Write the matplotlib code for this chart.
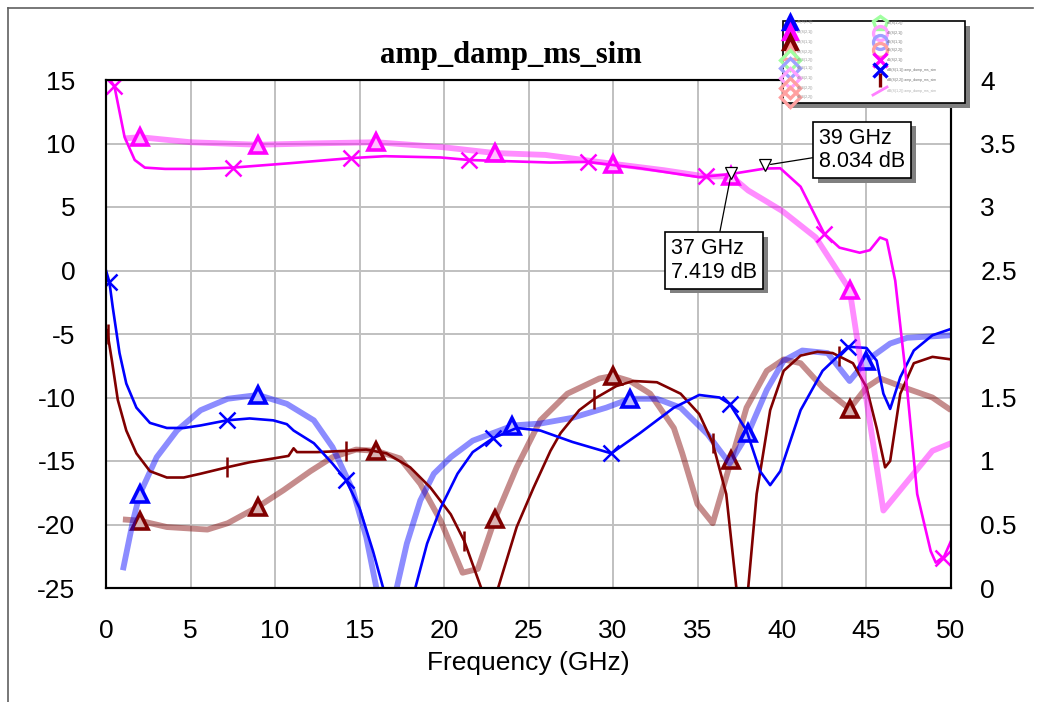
import numpy as np
import matplotlib
matplotlib.use("Agg")
import matplotlib.pyplot as plt
import matplotlib.patheffects as pe
from matplotlib.patches import Rectangle
from matplotlib.lines import Line2D

# --- data (frequency in GHz, level in dB) ---
# magenta thin line (x markers)
mag_f = [0.0, 0.5, 1.1, 1.7, 2.3, 3.5, 5.5, 7.5, 10.9, 14.5, 16.5, 19.8, 21.5, 26.3, 28.5,
         31.6, 35.1, 37.0, 39.0, 39.9, 41.1, 42.5, 43.4, 44.6, 45.2, 45.8, 46.2, 46.7,
         47.3, 48.0, 48.8, 49.1, 49.6, 50.0]
mag_db = [15.5, 14.5, 10.5, 8.7, 8.1, 8.0, 8.0, 8.1, 8.45, 8.85, 9.0, 8.9, 8.7, 8.5, 8.55,
          8.05, 7.35, 7.6, 8.03, 8.05, 6.6, 2.9, 1.8, 1.4, 1.6, 2.6, 2.4, -0.8,
          -7.9, -17.6, -22.1, -23.0, -22.5, -21.3]
mag_mk = [0.5, 7.5, 14.5, 21.5, 28.5, 35.5, 42.5, 49.5]

# thick pink line (triangles)
pink_f = [1.1, 2.0, 5.0, 9.0, 12.0, 16.0, 20.0, 23.0, 26.0, 30.0, 33.0, 35.5, 37.0, 38.0,
          40.0, 42.0, 44.0, 46.0, 48.9, 50.0]
pink_db = [10.4, 10.5, 10.1, 9.9, 10.0, 10.1, 9.7, 9.25, 9.1, 8.4, 7.9, 7.4, 7.42, 6.3,
           4.7, 2.6, -1.5, -18.9, -14.2, -13.6]
pink_mk = [2, 9, 16, 23, 30, 37, 44]

# blue thin line (x markers)
blue_f = [0.0, 0.2, 0.4, 0.8, 1.2, 1.8, 2.6, 3.6, 4.6, 5.6, 7.15, 8.5, 9.9, 10.7, 11.1,
          12.3, 13.4, 14.2, 15.0, 15.8, 16.4, 17.3, 18.3, 19.0, 19.8, 20.8, 21.7, 22.9,
          24.3, 25.7, 27.6, 29.9, 31.6, 33.6, 35.1, 36.3, 36.9, 37.9, 38.7, 39.3, 39.9,
          41.1, 42.4, 43.9, 45.0, 45.6, 46.0, 46.4, 47.0, 47.8, 48.9, 50.0]
blue_db = [0.0, -0.9, -2.9, -6.5, -8.9, -10.8, -12.0, -12.4, -12.4, -12.2, -11.8, -11.65,
           -11.8, -12.1, -12.6, -13.6, -15.2, -16.5, -18.7, -22.1, -25.0, -32.0, -25.0,
           -21.5, -18.7, -16.0, -14.3, -13.2, -12.4, -12.6, -13.5, -14.4, -12.8, -10.8,
           -9.8, -10.0, -10.5, -12.6, -15.8, -16.9, -15.8, -11.0, -7.9, -6.0, -6.1, -7.1,
           -9.7, -10.9, -8.4, -6.3, -5.1, -4.6]
blue_mk = [0.2, 7.15, 14.2, 22.9, 29.9, 36.9, 43.9]

# thick light blue line (triangles)
lblue_f = [1.0, 1.6, 2.0, 3.0, 4.2, 5.6, 7.2, 9.0, 10.7, 12.3, 13.4, 14.6, 15.4, 16.0,
           16.6, 17.2, 17.8, 18.6, 19.4, 20.4, 21.7, 24.1, 25.7, 27.6, 29.6, 31.0, 32.6,
           34.0, 35.6, 36.9, 38.0, 39.1, 40.1, 41.2, 42.7, 44.0, 45.0, 46.4, 47.4, 50.0]
lblue_db = [-23.6, -19.7, -17.6, -14.7, -12.6, -11.0, -10.1, -9.8, -10.5, -11.8, -13.9,
            -17.3, -21.0, -25.0, -30.0, -25.0, -21.5, -18.1, -16.0, -14.7, -13.4, -12.2,
            -12.05, -11.6, -10.8, -10.1, -10.1, -10.8, -12.9, -15.2, -12.8, -9.4, -7.1,
            -6.3, -6.5, -8.7, -7.1, -5.75, -5.3, -5.1]
lblue_mk = [2, 9, 24, 31, 38, 45]

# dark red thin line (| markers)
dred_f = [0.06, 0.35, 0.7, 1.2, 1.8, 2.6, 3.6, 4.6, 5.6, 7.15, 8.5, 9.9, 10.8, 11.1, 11.3,
          12.5, 14.2, 15.4, 16.6, 18.0, 19.2, 20.4, 21.2, 22.2, 22.7, 23.2, 24.3, 25.3,
          26.3, 26.9, 28.0, 28.9, 30.2, 31.2, 32.6, 34.0, 35.1, 35.9, 36.7, 37.3, 37.65,
          38.0, 38.5, 39.3, 40.1, 41.1, 42.1, 43.0, 44.2, 45.0, 45.6, 46.1, 46.4, 47.0,
          47.8, 48.9, 50.0]
dred_db = [-4.7, -7.1, -10.2, -12.6, -14.4, -15.8, -16.3, -16.3, -16.0, -15.5, -15.1,
           -14.8, -14.6, -14.0, -14.3, -14.3, -14.2, -14.1, -14.4, -15.5, -17.1, -19.2,
           -21.3, -25.0, -30.0, -25.0, -20.2, -17.1, -14.2, -12.8, -11.0, -10.1, -9.1,
           -8.7, -8.8, -9.7, -11.3, -13.6, -17.6, -25.0, -32.0, -25.0, -17.6, -11.0, -7.9,
           -6.7, -6.4, -6.5, -7.3, -9.2, -12.4, -15.5, -15.0, -9.7, -7.3, -6.8, -7.0]
dred_mk = [0.1, 7.15, 14.2, 21.2, 28.9, 35.9, 43.4]

# thick rosy line (dark red triangles)
rose_f = [1.0, 2.0, 3.6, 6.0, 7.2, 9.0, 10.5, 12.1, 13.4, 14.8, 16.0, 17.4, 18.6, 19.8,
          21.1, 22.0, 23.0, 24.3, 25.7, 27.3, 29.2, 30.0, 31.0, 32.2, 33.6, 34.1, 35.0,
          35.9, 37.0, 37.9, 39.1, 40.1, 41.1, 42.4, 44.0, 45.0, 45.8, 47.4, 48.9, 50.0]
rose_db = [-19.6, -19.7, -20.2, -20.4, -19.9, -18.6, -17.3, -15.8, -14.7, -14.1, -14.2,
           -14.8, -16.8, -19.7, -23.8, -23.5, -19.6, -15.5, -11.8, -9.7, -8.5, -8.3, -8.7,
           -9.7, -12.4, -14.4, -18.4, -19.9, -14.9, -10.8, -7.9, -7.0, -7.3, -9.2, -10.9,
           -9.2, -8.5, -9.3, -10.0, -11.0]
rose_mk = [2, 9, 16, 23, 30, 37, 44]

# marker readouts
m1_f, m1_db = 37, 7.419
m2_f, m2_db = 39, 8.034

x_ticks = [0, 5, 10, 15, 20, 25, 30, 35, 40, 45, 50]
y_ticks = [-25, -20, -15, -10, -5, 0, 5, 10, 15]
y2_ticks = [0, 0.5, 1, 1.5, 2, 2.5, 3, 3.5, 4]
y2_labels = ["0", "0.5", "1", "1.5", "2", "2.5", "3", "3.5", "4"]

plt.rcParams['font.family'] = ['Liberation Sans', 'DejaVu Sans']
plt.rcParams['axes.unicode_minus'] = False

fig = plt.figure(figsize=(10.42, 7.02), dpi=100)
ax = fig.add_axes([106 / 1042, 1 - 588 / 702, 845 / 1042, 508 / 702])


def thick(f, db, mk, col, face):
    ax.plot(f, db, color=col, lw=4.2, alpha=0.45, solid_capstyle='butt')
    ax.plot(mk, np.interp(mk, f, db), ls='none', marker='^', ms=11, mew=2.6,
            mec=col, mfc=face)


def thin(f, db, mk, col, marker, ms=11):
    ax.plot(f, db, color=col, lw=1.9)
    ax.plot(mk, np.interp(mk, f, db), ls='none', marker=marker, ms=ms, mew=1.8,
            color=col)


thick(rose_f, rose_db, rose_mk, '#800000', '#d9b3b3')
thick(lblue_f, lblue_db, lblue_mk, '#0000ff', '#c0c0ff')
thin(dred_f, dred_db, dred_mk, '#800000', '|', 14)
thin(blue_f, blue_db, blue_mk, '#0000ff', 'x')
thick(pink_f, pink_db, pink_mk, '#ff00ff', '#ffc0ff')
thin(mag_f, mag_db, mag_mk, '#ff00ff', 'x')

ax.set_xlim(0, 50)
ax.set_ylim(-25, 15)
ax.set_xticks(x_ticks)
ax.set_yticks(y_ticks)
ax.grid(True, color='#c0c0c0', lw=1.4)
ax.set_axisbelow(True)
ax.tick_params(length=0, labelsize=19, pad=22)
for s in ax.spines.values():
    s.set_linewidth(1.5)
ax.set_xlabel("Frequency (GHz)", fontsize=19, labelpad=6)
fig.text(511 / 1042, 1 - 55 / 702, "amp_damp_ms_sim", fontsize=22, fontweight='bold',
         family='Liberation Serif', ha='center', va='center')

ax2 = ax.twinx()
ax2.set_ylim(0, 4)
ax2.set_yticks(y2_ticks)
ax2.set_yticklabels(y2_labels)
ax2.tick_params(length=0, labelsize=19, pad=21)
for s in ax2.spines.values():
    s.set_linewidth(1.5)

# marker readouts with leader lines
for f, db, txt_xy in [(m1_f, m1_db, (33.45, 0.8)), (m2_f, m2_db, (42.2, 9.5))]:
    ax2.plot([f], [(db + 0.25 + 25) / 10], marker='v', ms=9, mec='black', mfc='white',
             mew=0.9, zorder=6)
    an = ax2.annotate("%d GHz\n%.3f dB" % (f, db), xy=(f, (db + 0.25 + 25) / 10),
                      xytext=(txt_xy[0], (txt_xy[1] + 25) / 10),
                      fontsize=15.5, ha='left', va='center', linespacing=1.15, zorder=7,
                      bbox=dict(boxstyle='square,pad=0.28', fc='white', ec='black', lw=1.2),
                      arrowprops=dict(arrowstyle='-', color='black', lw=0.9,
                                      shrinkA=0, shrinkB=4))
    an.get_bbox_patch().set_path_effects([
        pe.SimplePatchShadow(offset=(3.5, -3.5), shadow_rgbFace='#808080', alpha=1),
        pe.Normal()])

# legend block (tiny, unreadable in the original)
lg = fig.add_axes([783 / 1042, 1 - 103 / 702, 182 / 1042, 82 / 702])
lg.set_xlim(0, 182)
lg.set_ylim(82, 0)
lg.axis('off')
lg.add_patch(Rectangle((5, 5), 182, 82, fc='#808080', ec='none', clip_on=False))
lg.add_patch(Rectangle((0, 0), 182, 82, fc='white', ec='black', lw=1.2, clip_on=False))
left_items = [('#0000ff', '^', '#0000ff', 'dB(S(2,1))'),
              ('#ff00ff', '^', '#ff00ff', 'dB(S(2,1))'),
              ('#800000', '^', '#800000', 'dB(S(1,1))'),
              ('#ffa0a0', '^', 'none', 'dB(S(2,2))'),
              ('#a0ffa0', 'D', 'none', 'dB(S(1,2))'),
              ('#a0a0ff', 'D', 'none', 'dB(S(1,1))'),
              ('#ffa0ff', 'D', 'none', 'dB(S(2,1))'),
              ('#ffa0a0', 'D', 'none', 'dB(S(2,2))'),
              ('#ffa0a0', 'D', 'none', 'dB(S(2,2))')]
left_y = [1, 11, 21, 31, 39, 47, 57, 67, 76]
for (c, m, fcol, t), yy in zip(left_items, left_y):
    lg.plot([7], [yy], marker=m, ms=10, mew=2.4, mec=c, mfc=fcol, clip_on=False)
    lg.text(14, yy, t, fontsize=2.5, color='#909090', va='center')
right_items = [('#a0ffa0', 'p', 'dB(S(1,2))'),
               ('#ffa0ff', 'o', 'dB(S(2,1))'),
               ('#a0a0ff', 'o', 'dB(S(1,1))'),
               ('#ffa0a0', 'o', 'dB(S(2,2))'),
               ('#ff00ff', 'x', 'dB(S(2,1))'),
               ('#0000ff', 'x', 'dB(S(1,1)) amp_damp_ms_sim'),
               ('#800000', '|', 'dB(S(2,2)) amp_damp_ms_sim')]
right_y = [2, 12, 21, 29, 39, 49, 59]
for (c, m, t), yy in zip(right_items, right_y):
    lg.plot([97], [yy], marker=m, ms=10, mew=2.4, mec=c, mfc='none', clip_on=False)
    lg.text(104, yy, t, fontsize=2.5, color='#707070', va='center')
lg.add_line(Line2D([90, 104], [74, 66], color='#ff80ff', lw=2))
lg.text(104, 70, 'dB(S(1,2)) amp_damp_ms_sim', fontsize=2.5, color='#b0b0b0', va='center')

# window frame lines (top and left)
fig.add_artist(Line2D([8 / 1042, 1033 / 1042], [1 - 8 / 702, 1 - 8 / 702],
                      color='#606060', lw=1.2))
fig.add_artist(Line2D([8 / 1042, 8 / 1042], [0, 1 - 8 / 702], color='#606060', lw=1.2))

fig.savefig("out.png", dpi=100)
